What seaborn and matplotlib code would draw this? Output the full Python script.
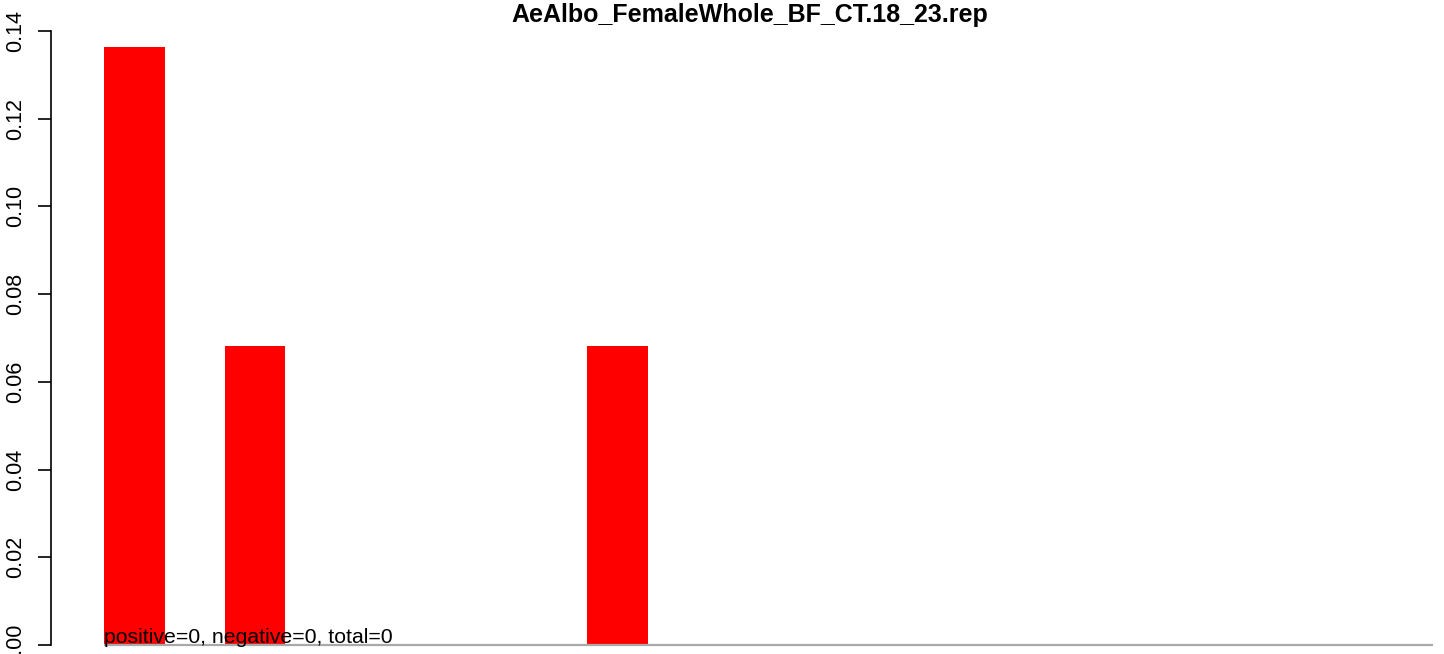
import matplotlib
matplotlib.use("Agg")
import matplotlib.pyplot as plt
import seaborn as sns
import pandas as pd

# data
categories = [str(i) for i in range(1, 13)]
values = [0.13636, 0.06818, 0.0, 0.0, 0.06818, 0.0, 0.0, 0.0, 0.0, 0.0, 0.0, 0.0]
yticks = [0.00, 0.02, 0.04, 0.06, 0.08, 0.10, 0.12, 0.14]
title = "AeAlbo_FemaleWhole_BF_CT.18_23.rep"
note = "positive=0, negative=0, total=0"

sns.set_style("white")
plt.rcParams["font.family"] = ["Liberation Sans", "DejaVu Sans"]
plt.rcParams["text.color"] = "black"
plt.rcParams["ytick.color"] = "black"
plt.rcParams["ytick.labelcolor"] = "black"

df = pd.DataFrame({"cat": categories, "val": values})

W, H = 1444, 654
fig = plt.figure(figsize=(W / 100, H / 100), dpi=100)
ax = fig.add_axes([50.5 / W, 0, 1 - 50.5 / W, 1])

sns.barplot(data=df, x="cat", y="val", color="#FF0000", saturation=1,
            width=0.5, linewidth=0, ax=ax, errorbar=None)

px_per_cat = 120.75
c0 = 134.5
ax.set_xlim((50.5 - c0) / px_per_cat, (W - c0) / px_per_cat)
ypx = 4386.0
ax.set_ylim(-9 / ypx, 645 / ypx)

# baseline grey line from first bar left edge to left edge of last slot
ax.plot([-0.25, len(categories) - 1 - 0.25], [0, 0], color="#A9A9A9",
        linewidth=1.6, solid_capstyle="butt", zorder=3)

for s in ["top", "right", "bottom"]:
    ax.spines[s].set_visible(False)
ax.spines["left"].set_bounds(yticks[0], yticks[-1])
ax.spines["left"].set_linewidth(1.2)
ax.spines["left"].set_color("black")
ax.set_yticks(yticks)
ax.set_yticklabels([f"{t:.2f}" for t in yticks], rotation=90, va="center",
                   fontsize=15.5, color="black")
ax.tick_params(axis="y", length=9.5, width=1.2, pad=8, left=True,
               color="black", labelcolor="black")
ax.set_xticks([])
ax.set_xlabel("")
ax.set_ylabel("")

ax.text(-0.25, 0.0004, note, ha="left", va="baseline", fontsize=15.3,
        color="black", zorder=4)
fig.text(750 / W, 1 - 3 / H, title, ha="center", va="top",
         fontsize=18, fontweight="bold", color="black")

fig.savefig("out.png", dpi=100)
